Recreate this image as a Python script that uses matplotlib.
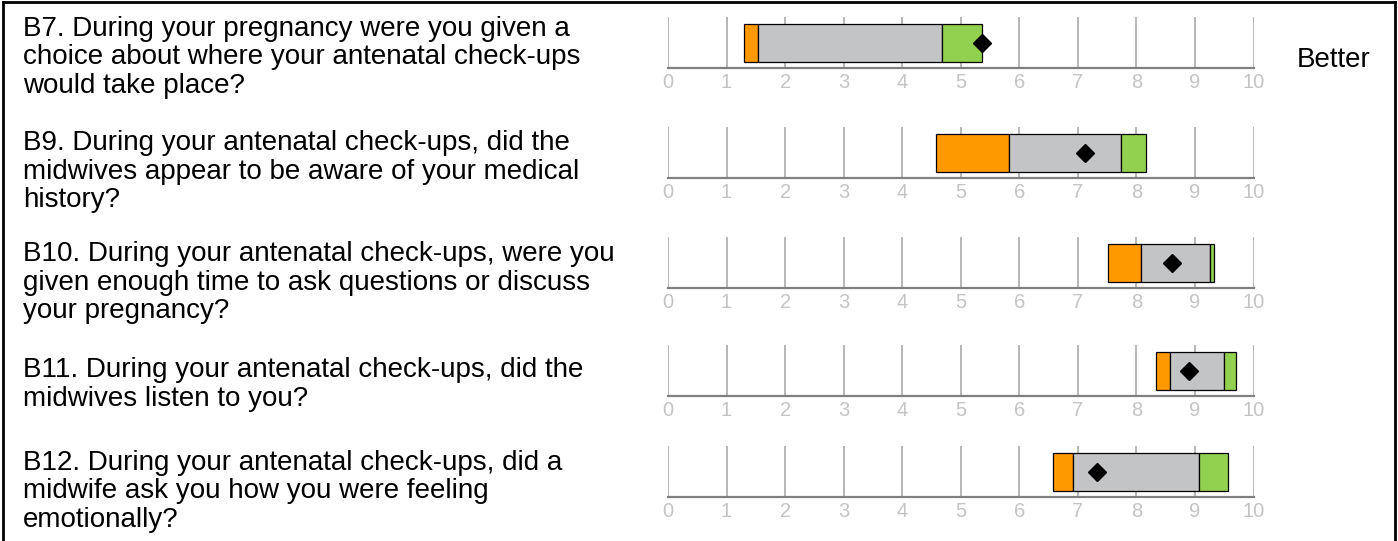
import matplotlib
matplotlib.use("Agg")
import matplotlib.pyplot as plt
from matplotlib.lines import Line2D

plt.rcParams["font.family"] = ["Liberation Sans", "DejaVu Sans"]

# survey questions (one row each)
questions = [
    "B7. During your pregnancy were you given a\nchoice about where your antenatal check-ups\nwould take place?",
    "B9. During your antenatal check-ups, did the\nmidwives appear to be aware of your medical\nhistory?",
    "B10. During your antenatal check-ups, were you\ngiven enough time to ask questions or discuss\nyour pregnancy?",
    "B11. During your antenatal check-ups, did the\nmidwives listen to you?",
    "B12. During your antenatal check-ups, did a\nmidwife ask you how you were feeling\nemotionally?",
]

# band edges (score out of 10)
lowest = [1.29, 4.58, 7.52, 8.34, 6.57]
lower_thr = [1.54, 5.83, 8.08, 8.57, 6.92]
upper_thr = [4.68, 7.73, 9.25, 9.50, 9.07]
highest = [5.36, 8.16, 9.32, 9.70, 9.56]
trust_score = [5.36, 7.12, 8.61, 8.89, 7.32]

ticks = list(range(0, 11))
side_label = "Better"

ORANGE = "#ff9900"
GREY = "#c3c4c6"
GREEN = "#92d050"

W, H = 1398, 541
fig = plt.figure(figsize=(W / 100, H / 100), dpi=100)

# pixel layout (top-down)
ax_left, ax_right = 668, 1253.5
row_tops = [17, 127, 237, 345, 446]
row_h = 51
text_base = [36, 150, 261, 377, 470]
line_step = 28.5

for i, q in enumerate(questions):
    top = row_tops[i]
    ax = fig.add_axes([ax_left / W, 1 - (top + row_h) / H,
                       (ax_right - ax_left) / W, row_h / H])
    ax.set_xlim(0, 10)
    ax.set_ylim(0, 1)
    for t in ticks:
        ax.axvline(t, color="#aaaaaa", lw=1.2, zorder=0)
    yc, bh = 0.49, 0.745
    segs = [(lowest[i], lower_thr[i], ORANGE),
            (lower_thr[i], upper_thr[i], GREY),
            (upper_thr[i], highest[i], GREEN)]
    for a, b, c in segs:
        ax.barh(yc, b - a, left=a, height=bh, color=c,
                edgecolor="black", linewidth=0.9, zorder=2)
    ax.plot([trust_score[i]], [yc], marker="D", color="black",
            markersize=9.5, zorder=3, clip_on=False)
    for s in ["top", "left", "right"]:
        ax.spines[s].set_visible(False)
    ax.spines["bottom"].set_color("#808080")
    ax.spines["bottom"].set_linewidth(1.6)
    ax.set_yticks([])
    ax.set_xticks(ticks)
    ax.set_xticklabels([str(t) for t in ticks])
    ax.tick_params(axis="x", length=0, pad=3.5, labelsize=14.5,
                   labelcolor="#c4c4c4")
    ax.patch.set_alpha(0)

    for j, line in enumerate(q.split("\n")):
        fig.text(23 / W, 1 - (text_base[i] + j * line_step) / H, line,
                 fontsize=20, va="baseline", ha="left", color="black")

fig.text(1297 / W, 1 - 67 / H, side_label, fontsize=20, va="baseline",
         ha="left", color="black")

# outer frame: left, top, right
frame = dict(color="black", lw=2.0, transform=fig.transFigure)
fig.add_artist(Line2D([2.5 / W, 2.5 / W], [0, 1 - 2 / H], **frame))
fig.add_artist(Line2D([2.5 / W, 1395 / W], [1 - 2 / H, 1 - 2 / H], **frame))
fig.add_artist(Line2D([1395 / W, 1395 / W], [0, 1 - 2 / H], **frame))

fig.savefig("out.png", dpi=100)
